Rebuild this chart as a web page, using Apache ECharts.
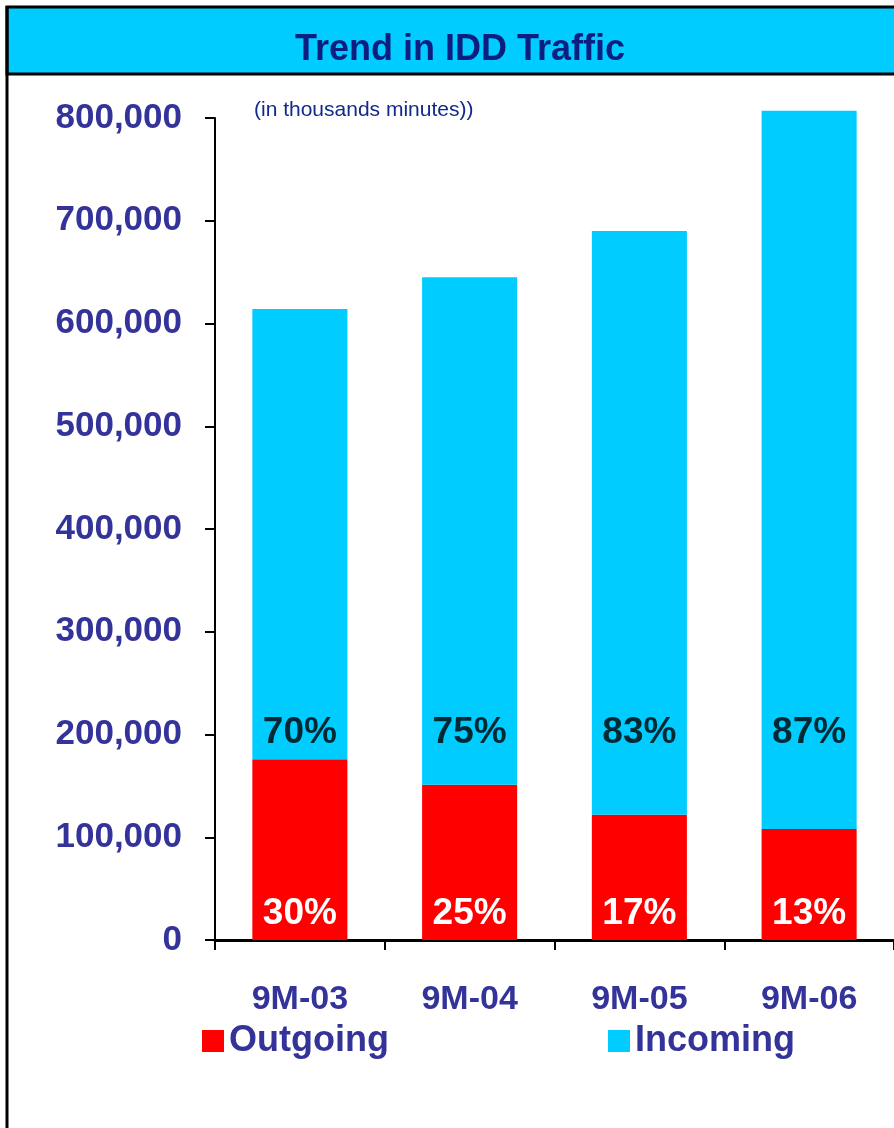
<!DOCTYPE html>
<html>
<head>
<meta charset="utf-8">
<script src="https://cdn.jsdelivr.net/npm/echarts@6/dist/echarts.min.js"></script>
<style>
  html, body { margin: 0; padding: 0; background: #fff; }
  #chart { width: 894px; height: 1128px; }
</style>
</head>
<body>
<div id="chart"></div>
<script>
const categories = ['9M-03', '9M-04', '9M-05', '9M-06'];
const outgoing = [176000, 151000, 122000, 108000];
const incoming = [438000, 494000, 568000, 699000];
const outgoingShare = ['30%', '25%', '17%', '13%'];
const incomingShare = ['70%', '75%', '83%', '87%'];
const yTicks = [0, 100000, 200000, 300000, 400000, 500000, 600000, 700000, 800000];

const FONT = '"Liberation Sans", Arial, Helvetica, sans-serif';
const AXIS_BLUE = '#333399';
const CYAN = '#00CCFF';
const RED = '#FF0000';
const INCOMING_LABEL_LEVEL = 202000;

const chart = echarts.init(document.getElementById('chart'), null, { renderer: 'canvas' });

chart.setOption({
  animation: false,
  backgroundColor: '#ffffff',
  graphic: [
    { type: 'rect', z: 0, shape: { x: 7, y: 7, width: 910, height: 67 },
      style: { fill: CYAN, stroke: '#000', lineWidth: 3 } },
    { type: 'line', z: 1, shape: { x1: 7, y1: 6, x2: 7, y2: 1140 },
      style: { stroke: '#000', lineWidth: 3 } }
  ],
  title: [
    { text: 'Trend in IDD Traffic', left: 455, top: 27, textAlign: 'center', z: 10,
      textStyle: { fontFamily: FONT, fontSize: 36, fontWeight: 'bold', color: '#0c1f80' } },
    { text: '(in thousands minutes))', left: 249, top: 95,
      textStyle: { fontFamily: FONT, fontSize: 21, fontWeight: 'normal', color: '#102a8a' } }
  ],
  legend: [
    { data: ['Outgoing'], left: 197, top: 1018, itemWidth: 22, itemHeight: 22, itemGap: 10,
      icon: 'rect', textStyle: { fontFamily: FONT, fontSize: 36, fontWeight: 'bold', color: AXIS_BLUE } },
    { data: ['Incoming'], left: 603, top: 1018, itemWidth: 22, itemHeight: 22, itemGap: 10,
      icon: 'rect', textStyle: { fontFamily: FONT, fontSize: 36, fontWeight: 'bold', color: AXIS_BLUE } }
  ],
  grid: { left: 215, top: 118, width: 684, height: 822, containLabel: false },
  xAxis: {
    type: 'category',
    data: categories,
    boundaryGap: true,
    axisLine: { lineStyle: { color: '#000', width: 3 } },
    axisTick: { show: true, length: 10, inside: false, lineStyle: { color: '#000', width: 2 } },
    axisLabel: { margin: 43, fontFamily: FONT, fontSize: 34, fontWeight: 'bold', color: AXIS_BLUE }
  },
  yAxis: {
    type: 'value',
    min: yTicks[0],
    max: yTicks[yTicks.length - 1],
    interval: yTicks[1] - yTicks[0],
    splitLine: { show: false },
    axisLine: { show: true, lineStyle: { color: '#000', width: 2 } },
    axisTick: { show: true, length: 10, lineStyle: { color: '#000', width: 2 } },
    axisLabel: {
      margin: 33, fontFamily: FONT, fontSize: 35, fontWeight: 'bold', color: AXIS_BLUE,
      formatter: v => v.toLocaleString('en-US')
    }
  },
  series: [
    {
      name: 'Outgoing', type: 'bar', stack: 'total', data: outgoing, barWidth: '56%',
      itemStyle: { color: RED }, clip: false,
      label: {
        show: true, position: 'insideBottom', distance: 8,
        formatter: p => outgoingShare[p.dataIndex],
        fontFamily: FONT, fontSize: 37, fontWeight: 'bold', color: '#fff'
      }
    },
    {
      name: 'Incoming', type: 'bar', stack: 'total', data: incoming, barWidth: '56%',
      itemStyle: { color: CYAN }, clip: false
    },
    {
      name: 'IncomingShare', type: 'scatter', symbolSize: 0, silent: true, z: 5,
      data: categories.map((c, i) => [c, INCOMING_LABEL_LEVEL]),
      label: {
        show: true, position: 'inside',
        formatter: p => incomingShare[p.dataIndex],
        fontFamily: FONT, fontSize: 37, fontWeight: 'bold', color: '#000'
      }
    }
  ]
});
</script>
</body>
</html>
